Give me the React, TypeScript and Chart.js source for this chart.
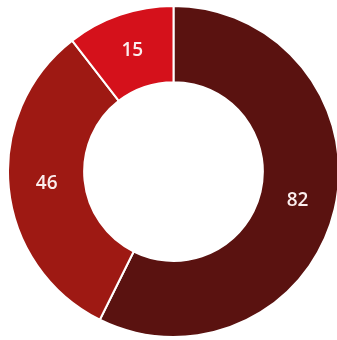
import React, { useEffect, useRef } from "react";
import { Chart, registerables } from "chart.js";

Chart.register(...registerables);

const categories = ["A", "B", "C"];
const values = [82, 46, 15];
const colors = ["#5a1210", "#9e1913", "#d5111b"];

const labelPlugin = {
  id: "sliceLabels",
  afterDatasetsDraw(chart: any) {
    const ctx = chart.ctx;
    const meta = chart.getDatasetMeta(0);
    ctx.save();
    ctx.fillStyle = "#fbeeee";
    ctx.font = "600 19px 'Open Sans', sans-serif";
    ctx.textAlign = "center";
    ctx.textBaseline = "middle";
    meta.data.forEach((arc: any, i: number) => {
      const p = arc.tooltipPosition();
      ctx.fillText(String(values[i]), p.x, p.y);
    });
    ctx.restore();
  },
};

export default function App() {
  const ref = useRef<HTMLCanvasElement>(null);
  useEffect(() => {
    if (!ref.current) return;
    const chart = new Chart(ref.current, {
      type: "doughnut",
      data: {
        labels: categories,
        datasets: [
          {
            data: values,
            backgroundColor: colors,
            borderColor: "#ffffff",
            borderWidth: 2,
            hoverOffset: 0,
          },
        ],
      },
      options: {
        responsive: false,
        animation: false,
        cutout: "54%",
        layout: { padding: 0 },
        plugins: { legend: { display: false }, tooltip: { enabled: false } },
      },
      plugins: [labelPlugin],
    });
    return () => chart.destroy();
  }, []);
  return (
    <div style={{ position: "absolute", left: 7, top: 5, width: 333, height: 333 }}>
      <canvas ref={ref} width={333} height={333} />
    </div>
  );
}
